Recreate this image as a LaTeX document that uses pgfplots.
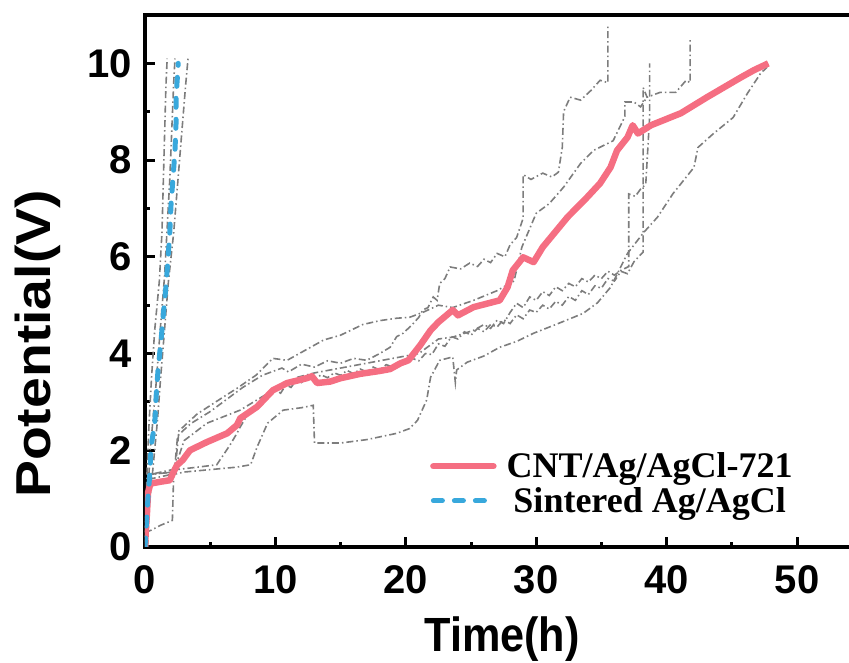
\documentclass[border=0pt]{standalone}
\usepackage{fontspec}
\setmainfont{Liberation Sans}
\newfontfamily\legfont{Liberation Serif}
\newfontfamily\xlabfont{Liberation Sans}[FakeStretch=0.9]
\newfontfamily\ylabfont{Liberation Sans}[FakeStretch=1.13]
\usepackage{pgfplots}
\pgfplotsset{compat=1.18}
\definecolor{cpink}{RGB}{245,110,130}
\definecolor{cblue}{RGB}{56,168,220}
\definecolor{cgray}{RGB}{125,125,125}
\begin{document}
\begin{tikzpicture}
\useasboundingbox (-145pt,-116pt) rectangle (704pt,547pt);
\begin{axis}[
  scale only axis, width=712pt, height=532pt,
  xmin=0, xmax=54.6, ymin=0, ymax=11,
  xtick={0,10,20,30,40,50}, ytick={0,2,4,6,8,10},
  minor x tick num=1, minor y tick num=1,
  tick align=inside, tick pos=left,
  major tick length=10pt, minor tick length=5pt,
  tick style={black, line width=3pt},
  axis line style={black, line width=3.5pt},
  /pgf/number format/assume math mode=true,
  tick label style={font=\bfseries\fontsize{40}{44}\selectfont, inner sep=0pt},
  xticklabel shift=18pt, yticklabel shift=13pt,
  xlabel={Time(h)}, ylabel={Potential(V)},
  xlabel style={font=\xlabfont\bfseries\fontsize{48}{54}\selectfont, at={(axis description cs:0.5014,-0.1955)}, anchor=base, inner sep=0pt},
  ylabel style={font=\ylabfont\bfseries\fontsize{49}{54}\selectfont, at={(axis description cs:-0.1334,0.3816)}, anchor=base, inner sep=0pt},
  legend cell align=center,
  legend image code/.code={\draw[#1, line cap=round] (0pt,0pt) -- (60pt,0pt);},
  legend style={draw=none, fill=none, at={(axis description cs:0.3960,0.1194)}, anchor=west,
    font=\legfont\bfseries\fontsize{36}{40}\selectfont, nodes={inner sep=0pt}, row sep=8pt,
    /tikz/column 1/.style={column sep=10pt}},
  gr/.style={cgray, line width=1.6pt, dash pattern=on 7pt off 3pt on 1.5pt off 3pt, forget plot},
]
% sintered trials
\addplot[gr] coordinates {(0,0) (0.05,0.5) (0.15,1.5) (0.3,2.5) (0.5,3.5) (0.75,4.5) (1.1,5.5) (1.3,6.5) (1.4,7.5) (1.5,8.5) (1.6,9.5) (1.7,10.1)};
\addplot[gr] coordinates {(0.2,0) (0.3,0.8) (0.6,1.6) (0.95,2.6) (1.2,3.5) (1.5,4.5) (1.8,5.5) (2.2,6.5) (2.5,7.5) (2.8,8.5) (3.1,9.5) (3.3,10.1)};
\addplot[gr] coordinates {(0.1,0) (0.2,1) (0.4,2) (0.8,3.2) (1.2,4.6) (1.5,5.6) (1.7,6.6) (1.9,7.6) (2.05,8.6) (2.2,9.6) (2.3,10.1)};
% CNT trials
\addplot[gr] coordinates {(0,0.1) (0.2,1.2) (0.4,1.5) (2.1,1.6) (2.3,1.7) (2.5,2.3) (3.5,2.55) (5,2.8) (6.5,3.1) (7.5,3.3) (9,3.55) (10.5,3.7) (11,3.62) (12,3.78) (13,3.72) (14,3.85) (15,3.8) (16,3.9) (17,3.86) (18,4.0) (18.8,4.13) (19.3,4.35) (19.8,4.42) (20.5,4.6) (21,4.75) (21.3,4.9) (21.7,4.95) (22.1,5.17) (22.4,5.1) (22.6,5.45) (23,5.55) (23.4,5.79) (24.2,5.75) (24.9,5.87) (25.5,5.8) (26,5.95) (26.5,5.88) (27,6.07) (27.6,6.0) (28,6.25) (28.5,6.4) (29,6.8) (29,7.7) (29.6,7.6) (30.5,7.73) (31.2,7.65) (31.7,7.75) (32,8.26) (32.1,9.0) (32.6,9.3) (33.4,9.24) (34.2,9.44) (34.9,9.65) (35.5,9.6) (35.5,10.8)};
\addplot[gr] coordinates {(0,0.2) (0.3,1.4) (2,1.5) (2.3,1.55) (2.6,2.4) (4,2.75) (6,3.1) (7.05,3.28) (8.5,3.55) (9.8,3.9) (10.9,3.86) (12.5,4.1) (13.7,4.28) (15,4.38) (16.7,4.6) (18,4.68) (19.3,4.73) (20.3,4.75) (21.3,4.85) (22.5,5.0) (23.6,4.95) (25.2,5.1) (27,5.3) (28.3,5.5) (28.9,6.2) (30,6.9) (31,7.1) (32.1,7.44) (33.4,7.93) (34.4,8.2) (35.9,8.4) (36.8,8.9) (36.8,9.2) (37.5,9.2) (38,9.1) (38.5,9.3)};
\addplot[gr] coordinates {(0,0.3) (0.3,1.5) (2.2,1.55) (2.5,1.8) (3,2.2) (4.75,2.56) (7.3,2.83) (9.8,3.24) (11.7,3.51) (13,3.6) (15,3.7) (17,3.8) (19,3.9) (21,4.0) (22.5,4.3) (23.6,4.34) (25.2,4.48) (26,4.6) (26.5,4.52) (27,4.69) (27.5,4.62) (28,4.85) (28.5,5.04) (29,4.95) (29.5,5.17) (30,5.1) (30.5,5.28) (31,5.2) (31.5,5.38) (32,5.3) (32.5,5.45) (33,5.38) (33.5,5.55) (34,5.48) (34.5,5.62) (35,5.55) (35.5,5.7) (36,5.62) (36.5,5.72) (37.1,5.8) (37.1,7.3) (37.6,7.25) (38,7.4) (38.4,7.5) (38.7,8.9) (38.7,10.0)};
\addplot[gr] coordinates {(0,0.2) (0.4,1.5) (2.2,1.55) (2.4,1.6) (4,1.65) (5.5,1.7) (5.75,1.8) (6.5,2.1) (7.05,2.35) (7.3,2.48) (8,2.8) (9.5,3.1) (10,3.25) (10.4,3.18) (10.8,3.35) (11.2,3.3) (11.6,3.45) (12,3.4) (12.5,3.52) (13,3.46) (13.5,3.56) (14,3.5) (14.5,3.6) (15,3.55) (15.5,3.65) (16,3.58) (16.5,3.68) (17,3.62) (17.5,3.72) (18,3.66) (18.5,3.77) (19,3.72) (19.5,3.82) (20,3.78) (20.5,3.9) (21,3.85) (21.5,4.0) (22,3.98) (22.5,4.2) (23,4.15) (23.5,4.35) (24,4.3) (24.5,4.45) (25,4.38) (25.5,4.52) (26,4.45) (26.5,4.6) (27,4.55) (27.5,4.7) (28,4.62) (28.5,4.8) (29,4.72) (29.5,4.9) (30,4.85) (30.5,5.0) (31,4.92) (31.5,5.08) (32,5.0) (32.5,5.18) (33,5.1) (33.5,5.3) (34,5.22) (34.5,5.4) (35,5.35) (35.5,5.55) (36,5.5) (36.5,5.7) (37,5.65) (37.5,5.9) (38.2,6.1) (38.2,9.5) (38.5,9.3) (39.5,9.4) (40.7,9.4) (41.5,9.65) (41.8,9.6) (41.8,10.5)};
\addplot[gr] coordinates {(0,0.3) (0.5,0.35) (1.2,0.45) (2.1,0.55) (2.2,1.5) (3,1.55) (5,1.6) (7,1.65) (8.1,1.7) (8.6,2.07) (9.4,2.56) (10.6,2.83) (12,2.88) (12.9,2.93) (13.0,2.15) (15,2.15) (17,2.22) (19.3,2.35) (20.3,2.45) (20.9,2.62) (21.6,3.04) (21.9,3.51) (22.6,3.86) (23.6,3.93) (23.8,3.4) (23.9,3.66) (24.7,3.82) (26,3.95) (27.2,4.13) (28.5,4.25) (29.8,4.42) (31.5,4.6) (33.6,4.83) (34.7,5.05) (35.7,5.37) (37,6.07) (38.2,6.49) (39.3,6.82) (40.5,7.31) (42.1,7.85) (42.4,8.26) (43.6,8.55) (45.1,8.88) (46.2,9.38) (47.2,9.79) (47.7,9.92)};
% average CNT
\addplot[cpink, line width=6.5pt, line join=round] coordinates {(0,0) (0.05,0.29) (0.15,0.7) (0.23,1.12) (0.4,1.3) (0.6,1.32) (1.2,1.35) (1.9,1.38) (2.15,1.53) (2.45,1.69) (2.9,1.8) (3.45,2.0) (4.75,2.17) (6.3,2.35) (7.05,2.52) (7.3,2.66) (8.6,2.9) (9.8,3.24) (10.9,3.39) (12.4,3.49) (12.8,3.53) (13.2,3.39) (14.2,3.42) (15.0,3.49) (16.5,3.58) (18.0,3.64) (18.8,3.68) (19.6,3.8) (20.2,3.86) (21.1,4.17) (21.9,4.48) (22.5,4.65) (23.6,4.9) (24.0,4.79) (25.2,4.96) (27.2,5.1) (27.8,5.37) (28.2,5.72) (29.0,5.99) (29.8,5.89) (30.5,6.2) (32.4,6.82) (33.9,7.23) (34.9,7.52) (35.7,7.85) (36.2,8.2) (37.0,8.47) (37.4,8.72) (37.8,8.55) (38.8,8.72) (41.1,8.97) (43.1,9.3) (45.7,9.71) (46.7,9.86) (47.8,10.0)};
\addlegendentry{CNT/Ag/AgCl-721}
\addplot[cblue, line width=5pt, line cap=round, dash pattern=on 9pt off 12pt] coordinates {(0,0) (0.08,0.35) (0.23,1.03) (0.38,1.55) (0.46,2.07) (0.75,2.56) (0.85,3.1) (1.0,3.66) (1.23,4.28) (1.53,5.17) (1.6,5.37) (1.75,5.9) (1.9,6.5) (2.0,7.1) (2.15,7.64) (2.3,8.2) (2.38,8.76) (2.38,9.3) (2.53,9.9) (2.55,10.0)};
\addlegendentry{Sintered Ag/AgCl}
\end{axis}
\end{tikzpicture}
\end{document}
